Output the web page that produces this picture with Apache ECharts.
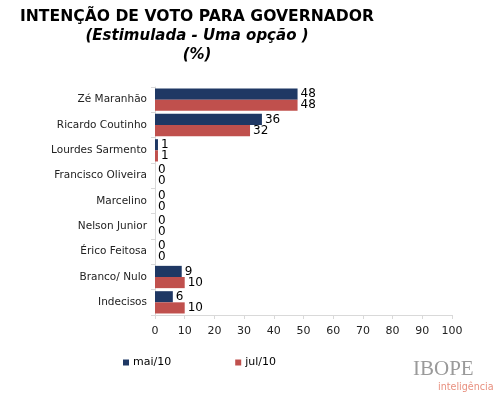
<!DOCTYPE html>
<html><head><meta charset="utf-8">
<script src="https://cdn.jsdelivr.net/npm/echarts@6/dist/echarts.min.js"></script>
<style>html,body{margin:0;padding:0;background:#fff}#c{width:500px;height:400px}</style>
</head><body><div id="c"></div>
<script>
const categories = ["Zé Maranhão","Ricardo Coutinho","Lourdes Sarmento","Francisco Oliveira","Marcelino","Nelson Junior","Érico Feitosa","Branco/ Nulo","Indecisos"];
const seriesNames = ["mai/10","jul/10"];
const mai10 = [48,36,1,0,0,0,0,9,6];
const jul10 = [48,32,1,0,0,0,0,10,10];
const xTicks = [0,10,20,30,40,50,60,70,80,90,100];

const chart = echarts.init(document.getElementById('c'), null, {renderer:'canvas'});
const font = '"DejaVu Sans", Verdana, sans-serif';
chart.setOption({
  animation:false,
  backgroundColor:'#fff',
  title:[
    {text:'INTENÇÃO DE VOTO PARA GOVERNADOR', left:20, top:9, padding:0, textStyle:{fontFamily:font,fontSize:15.6,fontWeight:'bold',color:'#000'}},
    {text:'(Estimulada - Uma opção )', left:197, top:29, padding:0, textAlign:'center', textStyle:{fontFamily:font,fontSize:15,fontWeight:'bold',fontStyle:'italic',color:'#000'}},
    {text:'(%)', left:197, top:48, padding:0, textAlign:'center', textStyle:{fontFamily:font,fontSize:15,fontWeight:'bold',fontStyle:'italic',color:'#000'}}
  ],
  legend:{
    data:seriesNames, left:118, top:352, itemWidth:6, itemHeight:6, itemGap:64, icon:'rect',
    textStyle:{fontFamily:font,fontSize:11,color:'#000',padding:[0,0,0,-1]}
  },
  grid:{left:155, right:48, top:87, bottom:85, containLabel:false},
  xAxis:{
    type:'value', min:0, max:100, interval:10,
    axisLine:{show:true,lineStyle:{color:'#d9d9d9'}},
    axisTick:{show:true,length:4,lineStyle:{color:'#d9d9d9'}},
    splitLine:{show:false},
    axisLabel:{fontFamily:font,fontSize:11,color:'#222',margin:11,
      formatter:v=>xTicks.includes(v)?String(v):''}
  },
  yAxis:{
    type:'category', data:categories, inverse:true,
    axisLine:{show:true,lineStyle:{color:'#d9d9d9'}},
    axisTick:{show:true,length:4,lineStyle:{color:'#d9d9d9'}},
    axisLabel:{fontFamily:font,fontSize:10.5,color:'#222',margin:8}
  },
  series:[
    {name:seriesNames[0], type:'bar', data:mai10, barGap:'0%', barCategoryGap:'12%',
     itemStyle:{color:'#1f3864'},
     label:{show:true,position:'right',distance:3,fontFamily:font,fontSize:12,color:'#000'}},
    {name:seriesNames[1], type:'bar', data:jul10,
     itemStyle:{color:'#c0504d'},
     label:{show:true,position:'right',distance:3,fontFamily:font,fontSize:12,color:'#000'}}
  ],
  graphic:[
    {type:'text', left:413, top:359, style:{text:'IBOPE', fontFamily:'"Liberation Serif","DejaVu Serif",serif', fontSize:21, fill:'#9a9a9a'}},
    {type:'text', left:438, top:382, style:{text:'inteligência', fontFamily:font, fontSize:9.6, fill:'#e8907f'}}
  ]
});
</script></body></html>
